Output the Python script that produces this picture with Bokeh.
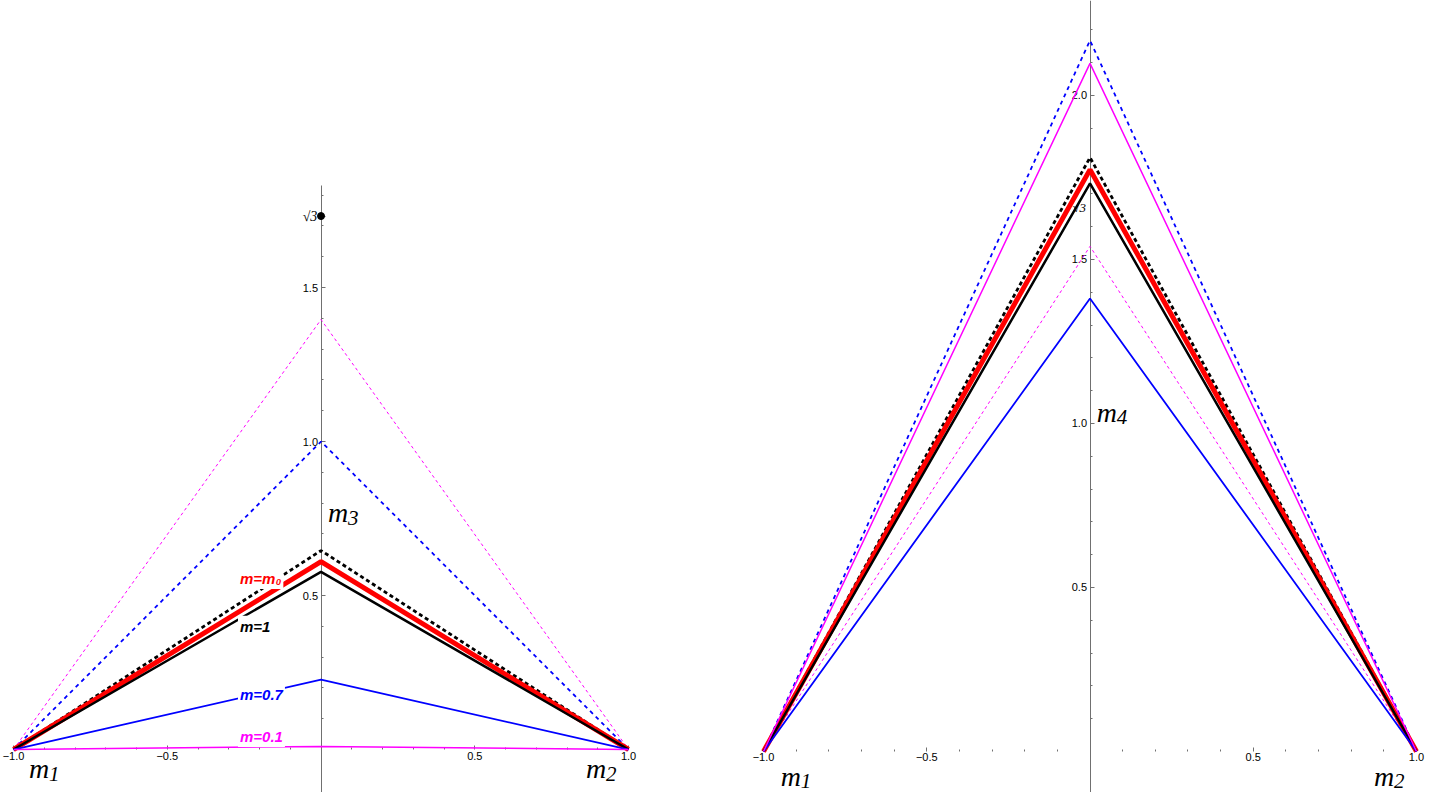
import math
from bokeh.plotting import figure
from bokeh.layouts import row
from bokeh.models import FixedTicker
from bokeh.core.properties import value
from bokeh.embed import file_html
from bokeh.resources import INLINE

SQRT3 = math.sqrt(3.0)

# ---------------- data ----------------
x_nodes = [-1.0, 0.0, 1.0]
series_keys = ["mag_dash", "blue_dash", "black_dot", "red", "black", "blue", "magenta"]
# peak value at x=0 of each triangle, left panel (m3) and right panel (m4)
m3_peaks = [1.396, 1.0, 0.646, 0.61, 0.577, 0.227, 0.01]
m4_peaks = [1.54, 2.168, 1.811, 1.774, 1.732, 1.381, 2.098]

x_major = [-1.0, -0.5, 0.5, 1.0]
x_major_labels = ["\u22121.0", "\u22120.5", "0.5", "1.0"]
x_minor = [-0.9, -0.8, -0.7, -0.6, -0.4, -0.3, -0.2, -0.1,
           0.1, 0.2, 0.3, 0.4, 0.6, 0.7, 0.8, 0.9]
y_major_left = [0.5, 1.0, 1.5, SQRT3]
y_major_left_labels = ["0.5", "1.0", "1.5", ""]
sqrt3_label = ["\u221a3"]
y_major_right = [0.5, 1.0, 1.5, 2.0]
y_major_right_labels = ["0.5", "1.0", "1.5", "2.0"]
y_minor_left = [0.1, 0.2, 0.3, 0.4, 0.6, 0.7, 0.8, 0.9, 1.1, 1.2, 1.3, 1.4, 1.6, 1.7, 1.8]
y_minor_right = [0.1, 0.2, 0.3, 0.4, 0.6, 0.7, 0.8, 0.9, 1.1, 1.2, 1.3, 1.4,
                 1.6, 1.7, 1.8, 1.9, 2.1, 2.2]

curve_labels = ["m=m\u2080", "m=1", "m=0.7", "m=0.1"]
marked_point_x = [0.0]
marked_point_y = [SQRT3]

# ---------------- styles ----------------
styles = {
    "mag_dash":  dict(line_color="#FF00FF", line_width=1.0, line_dash="3 3"),
    "blue_dash": dict(line_color="#0000FF", line_width=1.8, line_dash="4 4"),
    "black_dot": dict(line_color="#000000", line_width=2.8, line_dash="4 3"),
    "red":       dict(line_color="#FF0000", line_width=5.0),
    "black":     dict(line_color="#000000", line_width=2.5),
    "blue":      dict(line_color="#0000FF", line_width=1.8),
    "magenta":   dict(line_color="#FF00FF", line_width=1.5),
}
label_colors = ["#FF0000", "#000000", "#0000FF", "#FF00FF"]
label_x = [-0.27, -0.27, -0.27, -0.27]
label_y = [0.555, 0.40, 0.179, 0.042]

AXIS_COLOR = "#707070"
TICK_FONT_NAME = "Liberation Sans"
SANS = value("Liberation Sans")
SERIF = value("Liberation Serif")


def make_fig(width, xr, yr, y_major, y_labels, y_minor, y_bounds=None):
    p = figure(width=width, height=792, x_range=xr, y_range=yr,
               output_backend="svg", toolbar_location=None, min_border=0)
    p.outline_line_color = None
    p.grid.visible = False
    p.background_fill_color = "white"
    p.border_fill_color = "white"

    xa = p.xaxis[0]
    xa.fixed_location = 0
    xa.ticker = FixedTicker(ticks=x_major, minor_ticks=x_minor)
    xa.major_label_overrides = {t: s for t, s in zip(x_major, x_major_labels)}
    xa.axis_line_alpha = 0
    ya = p.yaxis[0]
    ya.fixed_location = 0
    ya.ticker = FixedTicker(ticks=y_major, minor_ticks=y_minor)
    ya.major_label_overrides = {t: s for t, s in zip(y_major, y_labels)}
    ya.axis_line_color = AXIS_COLOR
    if y_bounds is not None:
        ya.bounds = y_bounds
    for a in (xa, ya):
        a.level = "underlay"
        a.major_tick_in = 4
        a.major_tick_out = 0
        a.minor_tick_in = 2
        a.minor_tick_out = 0
        a.major_tick_line_color = AXIS_COLOR
        a.minor_tick_line_color = AXIS_COLOR
        a.major_label_text_font = TICK_FONT_NAME
        a.major_label_text_font_size = "11px"
        a.major_label_text_color = "#000000"
    xa.major_label_standoff = 2
    ya.major_label_standoff = 3
    return p


def m_label(p, x, y, sub):
    p.text(x=[x], y=[y], text=["m"], text_font=SERIF, text_font_style="italic",
           text_font_size="28px", text_align="left", text_baseline="alphabetic",
           text_color="#000000")
    p.text(x=[x], y=[y], text=[sub], text_font=SERIF, text_font_style="italic",
           text_font_size="21px", text_align="left", text_baseline="alphabetic",
           text_color="#000000", x_offset=20, y_offset=5)


# ---------------- left panel ----------------
p1 = make_fig(700, (-1.0423, 1.234), (-0.1396, 2.432),
              y_major_left, y_major_left_labels, y_minor_left, y_bounds=(-0.1396, 1.831))
p1.text(x=[-0.012], y=[SQRT3], text=sqrt3_label, text_font=SERIF, text_font_style="italic",
        text_font_size="14px", text_align="right", text_baseline="middle", text_color="#000000")
for key, pk in zip(series_keys, m3_peaks):
    p1.line(x_nodes, [0.0, pk, 0.0], **styles[key])
p1.scatter(marked_point_x, marked_point_y, size=7, color="#000000")
for t, c, lx, ly in zip(curve_labels, label_colors, label_x, label_y):
    p1.text(x=[lx], y=[ly], text=[t], text_color=c, text_font=SANS,
            text_font_style="bold italic", text_font_size="15px",
            text_align="left", text_baseline="middle",
            background_fill_color="white", padding=2)
m_label(p1, -0.95, -0.062, "1")
m_label(p1, 0.862, -0.062, "2")
m_label(p1, 0.023, 0.769, "3")

# ---------------- right panel ----------------
p2 = make_fig(732, (-1.193, 1.049), (-0.125, 2.2896),
              y_major_right, y_major_right_labels, y_minor_right)
p2.text(x=[-0.012], y=[1.66], text=sqrt3_label, text_font=SERIF, text_font_style="italic",
        text_font_size="13px", text_align="right", text_baseline="middle", text_color="#000000")
for key, pk in zip(series_keys, m4_peaks):
    p2.line(x_nodes, [0.0, pk, 0.0], **styles[key])
m_label(p2, -0.947, -0.076, "1")
m_label(p2, 0.87, -0.076, "2")
m_label(p2, 0.021, 1.034, "4")

layout = row(p1, p2, spacing=0)
open("out.html", "w").write(file_html(layout, INLINE))
